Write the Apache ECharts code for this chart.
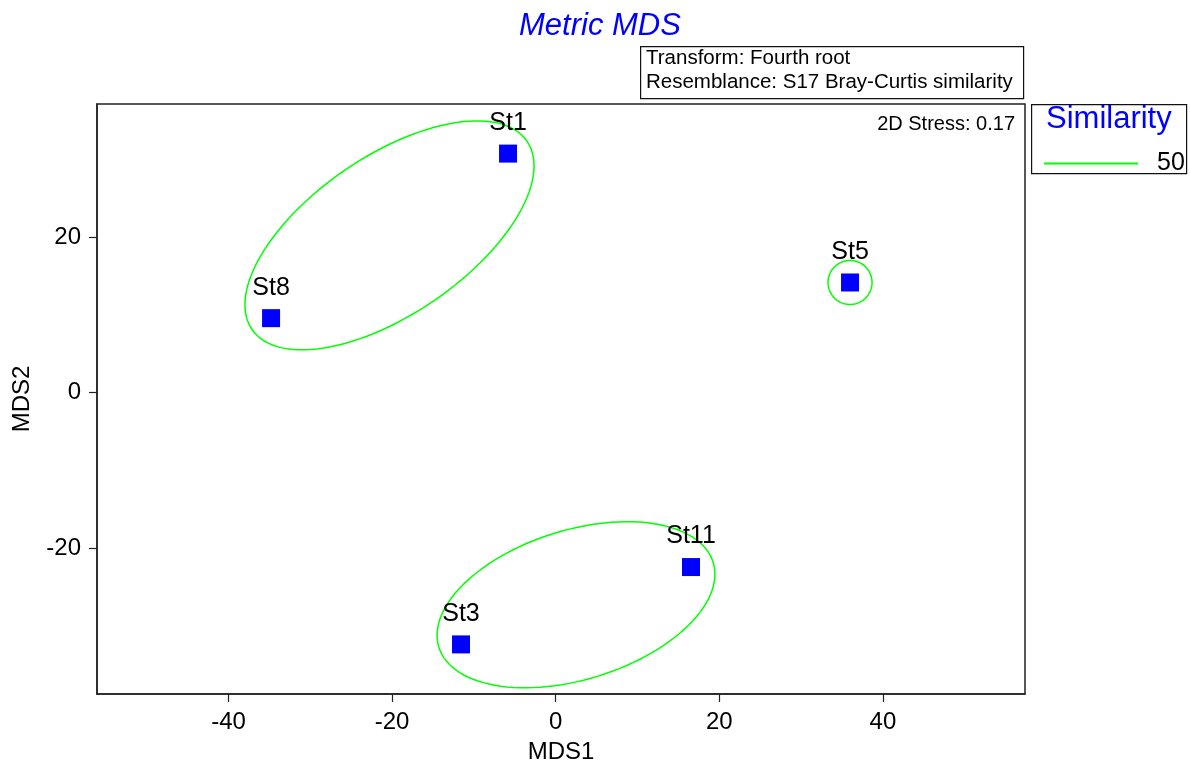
<!DOCTYPE html>
<html>
<head>
<meta charset="utf-8">
<script src="https://cdn.jsdelivr.net/npm/echarts@6/dist/echarts.min.js"></script>
<style>html,body{margin:0;padding:0;background:#fff}#c{width:1190px;height:769px}</style>
</head>
<body>
<div id="c"></div>
<script>
// ---- data ----
const stations = ['St1', 'St8', 'St5', 'St11', 'St3'];
const mds1 = [-5.83, -34.80, 35.98, 16.54, -11.58];
const mds2 = [30.74, 9.57, 14.16, -22.45, -32.40];

// similarity 50 contours: centre x, centre y, semi-major, semi-minor (MDS1 units), tilt (deg)
const contourCx = [-20.32, 2.48, 35.98];
const contourCy = [20.22, -27.30, 14.16];
const contourA = [20.37, 17.55, 2.69];
const contourB = [9.66, 9.13, 2.69];
const contourTilt = [34.4, 17.2, 0];

const xTicks = [-40, -20, 0, 20, 40];
const yTicks = [-20, 0, 20];
const xRange = [-56.08, 57.37];
const yRange = [-38.78, 37.12];

const similarityLevel = '50';
const stressText = '2D Stress: 0.17';
const infoLines = ['Transform: Fourth root', 'Resemblance: S17 Bray-Curtis similarity'];

// ---- chart ----
const FONT = '"Liberation Sans", Arial, sans-serif';
const chart = echarts.init(document.getElementById('c'), null, {renderer: 'canvas'});

const pointData = stations.map((s, i) => ({name: s, value: [mds1[i], mds2[i]]}));
const contourData = contourCx.map((cx, i) => [cx, contourCy[i], contourA[i], contourB[i], contourTilt[i]]);

function renderEllipse(params, api) {
  const c = api.coord([api.value(0), api.value(1)]);
  const unit = api.size([1, 0])[0];
  const a = api.value(2) * unit, b = api.value(3) * unit;
  const th = api.value(4) * Math.PI / 180;
  const pts = [];
  const n = 120;
  for (let k = 0; k < n; k++) {
    const t = 2 * Math.PI * k / n;
    const ex = a * Math.cos(t), ey = b * Math.sin(t);
    pts.push([c[0] + ex * Math.cos(th) - ey * Math.sin(th), c[1] - (ex * Math.sin(th) + ey * Math.cos(th))]);
  }
  return {type: 'polygon', shape: {points: pts}, style: {fill: 'none', stroke: '#00ff00', lineWidth: 1.5}};
}

const axisCommon = {
  type: 'value',
  splitLine: {show: false},
  axisLine: {show: true, onZero: false, lineStyle: {color: '#222', width: 1.5}},
  axisTick: {show: true, inside: false, length: 8, lineStyle: {color: '#222', width: 1.2}},
  nameTextStyle: {color: '#000', fontSize: 24, fontFamily: FONT},
  nameLocation: 'middle'
};

chart.setOption({
  animation: false,
  backgroundColor: '#fff',
  title: {
    text: 'Metric MDS',
    left: 514, top: 6,
    textStyle: {color: '#0000ff', fontStyle: 'italic', fontWeight: 'normal', fontSize: 31, fontFamily: FONT}
  },
  grid: {left: 97, top: 104, width: 928, height: 597, show: true, borderColor: '#222', borderWidth: 1.5, backgroundColor: 'transparent'},
  xAxis: Object.assign({}, axisCommon, {
    min: xRange[0], max: xRange[1], name: 'MDS1', nameGap: 46,
    axisTick: Object.assign({}, axisCommon.axisTick, {customValues: xTicks}),
    axisLabel: {customValues: xTicks, color: '#000', fontSize: 24, fontFamily: FONT, margin: 16}
  }),
  yAxis: Object.assign({}, axisCommon, {
    min: yRange[0], max: yRange[1], name: 'MDS2', nameGap: 63, nameRotate: 90,
    axisTick: Object.assign({}, axisCommon.axisTick, {customValues: yTicks}),
    axisLabel: {customValues: yTicks, color: '#000', fontSize: 24, fontFamily: FONT, margin: 16}
  }),
  legend: {
    left: 1039, top: 146,
    selectedMode: false,
    icon: 'rect', itemWidth: 94, itemHeight: 2,
    data: [similarityLevel],
    textStyle: {color: '#000', fontSize: 25, fontFamily: FONT, padding: [0, 0, 0, 14]}
  },
  graphic: [
    {type: 'rect', left: 640, top: 46, shape: {width: 383, height: 52}, style: {fill: '#fff', stroke: '#111', lineWidth: 1.2}},
    {type: 'text', left: 646, top: 48, style: {text: infoLines[0], fill: '#000', fontSize: 20.5, fontFamily: FONT}},
    {type: 'text', left: 646, top: 72, style: {text: infoLines[1], fill: '#000', fontSize: 20.5, fontFamily: FONT}},
    {type: 'text', right: 175, top: 114, style: {text: stressText, fill: '#000', fontSize: 20, fontFamily: FONT}},
    {type: 'rect', left: 1031, top: 104, shape: {width: 155, height: 69}, style: {fill: 'transparent', stroke: '#111', lineWidth: 1.2}},
    {type: 'text', left: 1046, top: 104, style: {text: 'Similarity', fill: '#0000ff', fontSize: 31, fontFamily: FONT}}
  ],
  series: [
    {
      name: similarityLevel,
      type: 'custom',
      renderItem: renderEllipse,
      itemStyle: {color: '#00ff00'},
      data: contourData,
      silent: true,
      z: 1
    },
    {
      name: 'stations',
      type: 'scatter',
      symbol: 'rect',
      symbolSize: 18,
      itemStyle: {color: '#0000ff', opacity: 1},
      data: pointData,
      label: {show: true, position: 'top', distance: 9, formatter: '{b}', color: '#000', fontSize: 25, fontFamily: FONT},
      emphasis: {disabled: true},
      z: 2
    }
  ]
});
</script>
</body>
</html>
